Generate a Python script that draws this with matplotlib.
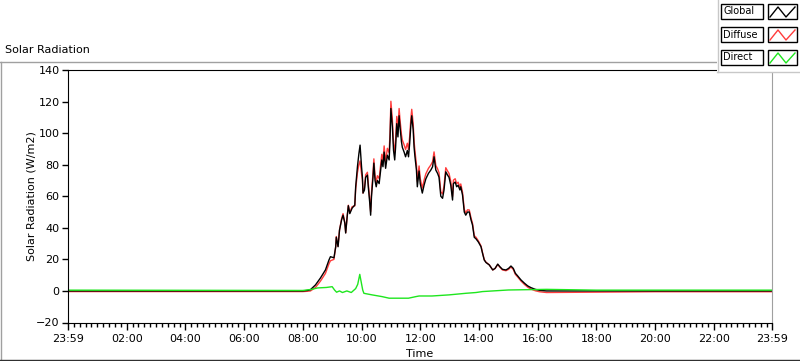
import matplotlib.pyplot as plt
from matplotlib.patches import Rectangle
from matplotlib.lines import Line2D
from matplotlib.ticker import MultipleLocator

# Global / diffuse share one time axis (hours since the 23:59 start)
hours = [0.0, 4.0, 8.0, 8.16, 8.26, 8.43, 8.6, 8.77, 8.89, 8.94, 9.06, 9.12, 9.14, 9.2,
         9.25, 9.32, 9.37, 9.43, 9.46, 9.51, 9.55, 9.6, 9.68, 9.77, 9.8, 9.86, 9.91, 9.95,
         10.0, 10.03, 10.05, 10.1, 10.14, 10.2, 10.23, 10.28, 10.31, 10.34, 10.39, 10.42,
         10.46, 10.5, 10.54, 10.6, 10.65, 10.69, 10.73, 10.77, 10.82, 10.88, 10.94, 10.97,
         11.0, 11.05, 11.09, 11.13, 11.16, 11.2, 11.24, 11.28, 11.31, 11.36, 11.39, 11.45,
         11.5, 11.56, 11.6, 11.64, 11.68, 11.71, 11.76, 11.79, 11.82, 11.87, 11.9, 11.96,
         12.0, 12.07, 12.13, 12.19, 12.28, 12.36, 12.42, 12.47, 12.53, 12.59, 12.64, 12.7,
         12.76, 12.81, 12.87, 12.93, 12.98, 13.04, 13.1, 13.13, 13.19, 13.24, 13.29, 13.35,
         13.38, 13.44, 13.5, 13.55, 13.61, 13.67, 13.73, 13.78, 13.84, 13.9, 13.98, 14.07,
         14.12, 14.18, 14.24, 14.35, 14.47, 14.55, 14.64, 14.71, 14.8, 14.92, 15.01, 15.09,
         15.17, 15.24, 15.32, 15.43, 15.55, 15.66, 15.77, 15.92, 16.06, 16.3, 20.0, 23.983]

global_rad = [0, 0, 0, 0.3, 0.8, 3.8, 8.2, 13.3, 19.6, 21.7, 21, 28, 34, 28,
              38.6, 45, 48, 43, 36.7, 47, 54, 49, 52.5, 54.4, 66, 78.7, 87, 92.4,
              78.7, 72, 62, 64, 72, 73.4, 66, 55.7, 48, 60, 72, 81,
              70, 66, 70, 68, 76.6, 83, 78.7, 88, 77.7, 86, 83, 95.6,
              115.6, 104, 89, 83, 91, 106, 97.6, 111, 104, 94.5, 91, 88,
              85, 89, 85, 93.5, 105, 111, 102, 91, 85, 76.6, 66, 76,
              68, 62, 67, 71, 74.5, 76.6, 78.7, 85, 76.6, 74.5, 72, 60,
              58.7, 64, 75.5, 73.4, 72, 67, 57.6, 68, 69, 66, 67, 64,
              66, 60.8, 50, 48, 50, 50, 45, 41.8, 34, 33, 31, 28,
              24, 19.6, 18, 16.5, 13.3, 14.3, 17, 15.4, 13.7, 13.3, 14.3, 15.8,
              14.3, 11.2, 9.5, 7, 4.9, 3.2, 2.1, 1.0, 0.4, 0, 0, 0]

diffuse_rad = [-0.4, -0.4, -0.4, -0.2, 0, 2.2, 6.2, 11.1, 17.2, 19.1, 20, 28, 34.5, 28.4,
               38.6, 45.7, 49, 43.5, 36.9, 47, 54.3, 49.7, 53.4, 53.9, 64.5, 74.9, 80, 82.4,
               74.2, 70.5, 62, 65.4, 73.6, 75.2, 68, 57.9, 50.3, 62.5, 74.6, 83.7,
               72.8, 68.9, 73, 71.2, 80, 86.6, 82.4, 91.9, 81.8, 90.4, 87.6, 100.2,
               120.2, 108.6, 93.6, 87.6, 95.6, 110.6, 102.2, 115.6, 108.6, 99.1, 95.6, 92.6,
               89.6, 93.6, 89.6, 97.9, 109.2, 115.1, 105.9, 94.8, 88.7, 80.1, 69.4, 79.2,
               71.2, 65.2, 70.2, 74.2, 77.7, 79.8, 81.9, 88.1, 79.6, 77.4, 74.9, 62.8,
               61.5, 66.7, 78.1, 76, 74.5, 69.4, 59.9, 70.2, 71.1, 68, 68.9, 65.8,
               67.8, 62.5, 51.6, 49.5, 51.4, 51.3, 46.2, 42.9, 35, 34, 31.7, 28.5,
               24.4, 19.9, 18.2, 16.6, 13.3, 14.2, 16.8, 15.1, 13.3, 12.8, 13.7, 15.2,
               13.6, 10.5, 8.8, 6.3, 4.1, 2.4, 1.2, 0.1, -0.5, -1.0, -0.5, -0.5]

direct_hours = [0.0, 8.0, 8.3, 8.5, 8.8, 9.0, 9.08, 9.15, 9.25, 9.35, 9.5, 9.65, 9.8, 9.87,
                9.94, 10.0, 10.04, 10.08, 10.36, 10.7, 10.94, 11.28, 11.6, 11.85, 11.96,
                12.4, 12.98, 13.55, 13.9, 14.12, 14.47, 15.0, 16.3, 18.0, 23.983]
direct_rad = [0.5, 0.3, 1.0, 1.9, 2.2, 2.7, 0.6, -0.8, 0, -1, 0, -1, 1.5, 4.2,
              10.5, 4.5, 0.6, -1.5, -2.5, -3.6, -4.6, -4.6, -4.6, -3.6, -3.2,
              -3.2, -2.5, -1.5, -1.0, -0.4, 0, 0.6, 1.0, 0.5, 0.5]

tick_pos = [0, 2, 4, 6, 8, 10, 12, 14, 16, 18, 20, 22, 23.983]
tick_lab = ['23:59', '02:00', '04:00', '06:00', '08:00', '10:00', '12:00',
            '14:00', '16:00', '18:00', '20:00', '22:00', '23:59']

names = ['Global', 'Diffuse', 'Direct']
colors = ['#000000', '#ff3c3c', '#1ee61e']

W, H = 800, 361
fig = plt.figure(figsize=(W / 100, H / 100), dpi=100)
fig.patch.set_facecolor('white')

def fx(x):
    return x / W

def fy(y):
    return 1 - y / H

ax = fig.add_axes([fx(68), fy(322.5), fx(772) - fx(68), fy(70) - fy(322.5)])

ax.plot(hours, diffuse_rad, color=colors[1], lw=1.0)
ax.plot(hours, global_rad, color=colors[0], lw=1.0)
ax.plot(direct_hours, direct_rad, color=colors[2], lw=1.0)

ax.set_xlim(0, 23.983)
ax.set_ylim(-20, 140)
ax.set_yticks(range(-20, 141, 20))
ax.set_xticks(tick_pos)
ax.set_xticklabels(tick_lab)
ax.xaxis.set_minor_locator(MultipleLocator(0.2))
ax.tick_params(axis='both', which='major', direction='out', length=4, width=1,
               labelsize=8, pad=2)
ax.tick_params(axis='x', which='major', length=5, pad=3)
ax.tick_params(axis='x', which='minor', direction='out', length=3, width=1)

for s in ['left', 'bottom', 'top']:
    ax.spines[s].set_color('black')
ax.spines['right'].set_color('#a0a0a0')

fig.text(fx(31), fy(196), 'Solar Radiation (W/m2)', rotation=90,
         ha='center', va='center', fontsize=8)
fig.text(fx(420), fy(354), 'Time', ha='center', va='center', fontsize=8)
fig.text(fx(5), fy(50), 'Solar Radiation', ha='left', va='center', fontsize=8)

# outer frame of the graph control
fig.add_artist(Line2D([fx(0), fx(717)], [fy(61.5), fy(61.5)], color='#a0a0a0', lw=1))
fig.add_artist(Line2D([fx(0.5), fx(0.5)], [fy(61.5), fy(359.5)], color='#a0a0a0', lw=1))
fig.add_artist(Line2D([fx(0), fx(800)], [fy(359.5), fy(359.5)], color='#303030', lw=1))

# plot legend box
fig.add_artist(Rectangle((fx(717), fy(72)), fx(800) - fx(717), fy(0) - fy(72),
                         facecolor='white', edgecolor='none', zorder=5))
fig.add_artist(Line2D([fx(717.5), fx(717.5)], [fy(0), fy(72)], color='#c8c8c8', lw=1, zorder=6))
fig.add_artist(Line2D([fx(717), fx(800)], [fy(72), fy(72)], color='#c8c8c8', lw=1, zorder=6))

for i, (nm, c) in enumerate(zip(names, colors)):
    top = 4 + i * 23
    bot = top + 15
    fig.add_artist(Rectangle((fx(721), fy(bot)), fx(763) - fx(721), fy(top) - fy(bot),
                             facecolor='white', edgecolor='black', lw=1, zorder=7))
    fig.add_artist(Rectangle((fx(768), fy(bot)), fx(797) - fx(768), fy(top) - fy(bot),
                             facecolor='white', edgecolor='black', lw=1, zorder=7))
    fig.text(fx(723.5), fy((top + bot) / 2), nm, ha='left', va='center',
             fontsize=7, zorder=8)
    zx = [770, 778, 786, 795]
    zy = [bot - 2, top + 3, bot - 2, top + 3]
    fig.add_artist(Line2D([fx(v) for v in zx], [fy(v) for v in zy], color=c, lw=1, zorder=8))

fig.savefig('out.png', dpi=100)
